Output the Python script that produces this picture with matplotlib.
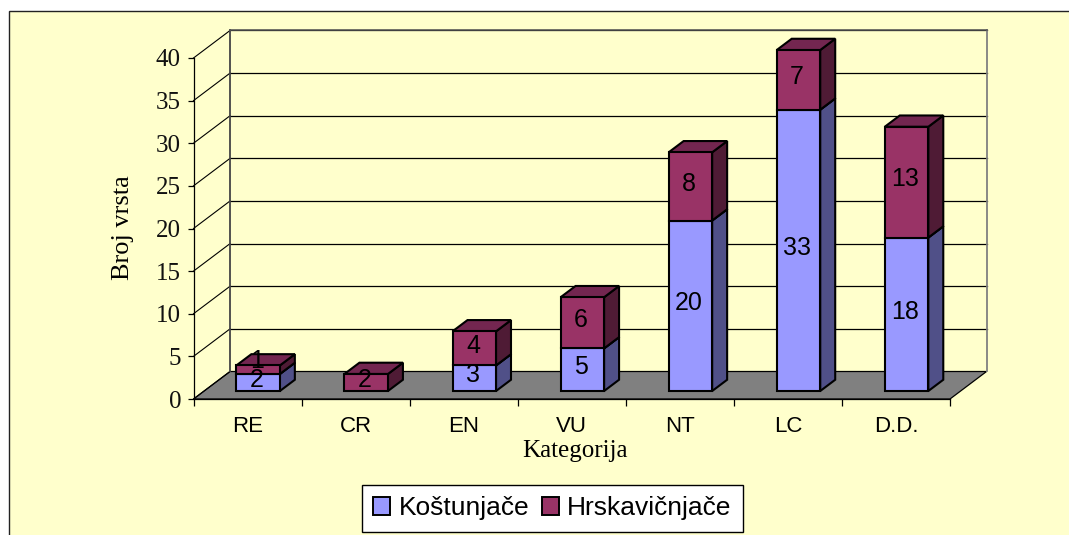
import matplotlib
matplotlib.use("Agg")
import matplotlib.pyplot as plt
from matplotlib.patches import Rectangle, Patch

categories = ["RE", "CR", "EN", "VU", "NT", "LC", "D.D."]
kostunjace = [2, 0, 3, 5, 20, 33, 18]
hrskavicnjace = [1, 2, 4, 6, 8, 7, 13]
series_names = ["Koštunjače", "Hrskavičnjače"]
y_ticks = [0, 5, 10, 15, 20, 25, 30, 35, 40]

BG = "#FFFFCC"
BLUE = ("#9999FF", "#505088", "#6B6BB2")
MAROON = ("#993366", "#4F1B35", "#732650")

# oblique offset of the floor depth, in data units
DX = 0.338
DY = 3.226
D_FRONT = 0.29
D_BACK = 0.70
BAR_W = 0.4025

fig = plt.figure(figsize=(10.69, 5.35), dpi=100, facecolor="white")
fig.patches.append(Rectangle((9 / 1069, -0.1), 1.2, 1.1 - 11 / 535, transform=fig.transFigure,
                             facecolor=BG, edgecolor="#222222", linewidth=1.0, zorder=-1))

ax = fig.add_axes([193.5 / 1069, (535 - 399) / 535, 756.5 / 1069, 341 / 535])
ax.patch.set_visible(False)
ax.set_xlim(0, 7)
ax.set_ylim(0, 40)

# floor
ax.fill([0, 7, 7 + DX, DX], [0, 0, DY, DY], facecolor="#808080", edgecolor="black",
        linewidth=0.9, clip_on=False, zorder=1)

# walls and gridlines
for t in y_ticks:
    ax.plot([0, DX], [t, t + DY], color="black", linewidth=0.8, clip_on=False, zorder=1)
    if t > 0:
        ax.plot([DX, 7 + DX], [t + DY, t + DY], color="black", linewidth=0.9, clip_on=False, zorder=1)
ax.plot([DX, DX], [DY, 40 + DY], color="#444444", linewidth=1.3, clip_on=False, zorder=1)
ax.plot([7 + DX, 7 + DX], [DY, 40 + DY], color="#808080", linewidth=1.3, clip_on=False, zorder=1)
ax.plot([DX, 7 + DX], [40 + DY, 40 + DY], color="#555555", linewidth=1.1, clip_on=False, zorder=1)


def draw_segment(i, bottom, value, colors):
    x0 = i + 0.5 - BAR_W / 2 + D_FRONT * DX
    x1 = x0 + BAR_W
    y0 = bottom + D_FRONT * DY
    y1 = y0 + value
    dx = (D_BACK - D_FRONT) * DX
    dy = (D_BACK - D_FRONT) * DY
    edge = dict(edgecolor="black", linewidth=1.5, clip_on=False, zorder=3, joinstyle="miter")
    ax.fill([x1, x1 + dx, x1 + dx, x1], [y0, y0 + dy, y1 + dy, y1], facecolor=colors[1], **edge)
    ax.fill([x0, x1, x1 + dx, x0 + dx], [y1, y1, y1 + dy, y1 + dy], facecolor=colors[2], **edge)
    ax.bar(x0, value, BAR_W, bottom=y0, align="edge", color=colors[0], **edge)
    return (x0 + x1) / 2, (y0 + y1) / 2


labels = []
for i in range(len(categories)):
    if kostunjace[i] > 0:
        cx, cy = draw_segment(i, 0, kostunjace[i], BLUE)
        labels.append((cx, cy, kostunjace[i], 0))
    cx, cy = draw_segment(i, kostunjace[i], hrskavicnjace[i], MAROON)
    # the "1" on RE sits higher than its thin segment
    labels.append((cx, cy, hrskavicnjace[i], 4 if hrskavicnjace[i] == 1 else 0))

for cx, cy, val, extra in labels:
    ax.annotate(str(val), (cx, cy), xytext=(-1, 2 + extra), textcoords="offset points",
                ha="center", va="center", fontsize=18, family="Liberation Sans",
                color="black", zorder=5, annotation_clip=False)

# axes
for side in ["top", "right"]:
    ax.spines[side].set_visible(False)
ax.spines["left"].set_linewidth(0.9)
ax.spines["bottom"].set_linewidth(0.9)
ax.set_yticks(y_ticks)
ax.set_yticklabels([str(t) for t in y_ticks], family="Liberation Serif", fontsize=18, color="#111111")
ax.tick_params(axis="y", length=4.5, width=0.9, pad=4.5)
ax.set_xticks(range(8))
ax.set_xticklabels([])
ax.tick_params(axis="x", which="major", length=5, width=0.9)
ax.set_xticks([i + 0.5 for i in range(len(categories))], minor=True)
ax.set_xticklabels(categories, minor=True, family="Liberation Sans", fontsize=16)
ax.tick_params(axis="x", which="minor", length=0, pad=12.5)

ax.set_ylabel("Broj vrsta", family="Liberation Serif", fontsize=19)
ax.yaxis.set_label_coords((134 - 193.5) / 756.5, (399 - 228) / 341)
ax.set_xlabel("Kategorija", family="Liberation Serif", fontsize=18)
ax.xaxis.set_label_coords((575 - 193.5) / 756.5, (399 - 440) / 341)

handles = [Patch(facecolor=BLUE[0], edgecolor="black", linewidth=1.4),
           Patch(facecolor=MAROON[0], edgecolor="black", linewidth=1.4)]
leg = fig.legend(handles, series_names, ncol=2, loc="center",
                 bbox_to_anchor=(552.5 / 1069, (535 - 508.5) / 535),
                 prop={"family": "Liberation Sans", "size": 19}, fancybox=False, framealpha=1,
                 edgecolor="black", facecolor="white", handlelength=0.65, handleheight=0.65,
                 handletextpad=0.3, columnspacing=0.5, borderpad=0.42, borderaxespad=0)
leg.get_frame().set_linewidth(1.0)

fig.savefig("out.png", dpi=100)
